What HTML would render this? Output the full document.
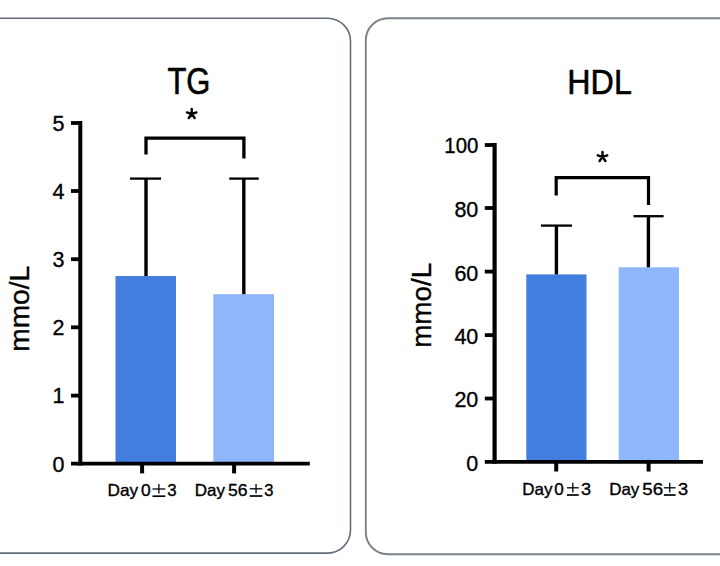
<!DOCTYPE html>
<html><head><meta charset="utf-8">
<style>
html,body{margin:0;padding:0;background:#fff;width:720px;height:566px;overflow:hidden}
svg{display:block}
text{font-family:"Liberation Sans",sans-serif;fill:#000}
</style></head>
<body>
<svg width="720" height="566" viewBox="0 0 720 566">
<rect x="0" y="0" width="720" height="566" fill="#fff"/>
<rect x="-40" y="18.2" width="390.5" height="534.9" rx="23" ry="23" fill="none" stroke="#646c7a" stroke-width="1.6"/>
<rect x="365.8" y="18.3" width="400" height="535.9" rx="22" ry="22" fill="none" stroke="#7a8188" stroke-width="1.9"/>
<rect x="115.5" y="276" width="60.5" height="187" fill="#417ede"/>
<rect x="213.3" y="294.2" width="60.7" height="169" fill="#8fb6fb"/>
<g stroke="#000" fill="none"><line x1="80.3" y1="121" x2="80.3" y2="465.6" stroke-width="4"/><line x1="71" y1="463.7" x2="309.8" y2="463.7" stroke-width="3.7"/><line x1="71" y1="123" x2="80" y2="123" stroke-width="3.8"/><line x1="71" y1="191" x2="80" y2="191" stroke-width="3.8"/><line x1="71" y1="259.2" x2="80" y2="259.2" stroke-width="3.8"/><line x1="71" y1="327.3" x2="80" y2="327.3" stroke-width="3.8"/><line x1="71" y1="395.6" x2="80" y2="395.6" stroke-width="3.8"/><line x1="142.1" y1="464" x2="142.1" y2="473.4" stroke-width="4"/><line x1="234.1" y1="464" x2="234.1" y2="473.4" stroke-width="4"/><line x1="146" y1="276" x2="146" y2="178.6" stroke-width="3.4"/><line x1="243.8" y1="294.2" x2="243.8" y2="178.6" stroke-width="3.4"/><line x1="130" y1="178.6" x2="161" y2="178.6" stroke-width="2.3"/><line x1="229.2" y1="178.6" x2="258.8" y2="178.6" stroke-width="2.3"/><polyline points="146,154.5 146,138.2 243.9,138.2 243.9,158.4" stroke-width="3.3"/></g>
<path d="M191.70 114.00L191.70 109.00M191.70 114.00L196.46 112.45M191.70 114.00L194.64 118.05M191.70 114.00L188.76 118.05M191.70 114.00L186.94 112.45" stroke="#000" stroke-width="2.4" stroke-linecap="round" fill="none"/>
<text x="188.9" y="94.1" font-size="36" text-anchor="middle" textLength="43" lengthAdjust="spacingAndGlyphs" stroke="#000" stroke-width="0.6">TG</text>
<text x="64.5" y="130.8" font-size="21.5" text-anchor="end" stroke="#000" stroke-width="0.35">5</text>
<text x="64.5" y="198.8" font-size="21.5" text-anchor="end" stroke="#000" stroke-width="0.35">4</text>
<text x="64.5" y="267.0" font-size="21.5" text-anchor="end" stroke="#000" stroke-width="0.35">3</text>
<text x="64.5" y="335.1" font-size="21.5" text-anchor="end" stroke="#000" stroke-width="0.35">2</text>
<text x="64.5" y="403.40000000000003" font-size="21.5" text-anchor="end" stroke="#000" stroke-width="0.35">1</text>
<text x="64.5" y="471.6" font-size="21.5" text-anchor="end" stroke="#000" stroke-width="0.35">0</text>
<text transform="translate(29.2,308.8) rotate(-90)" font-size="27.5" text-anchor="middle" textLength="86" lengthAdjust="spacingAndGlyphs" stroke="#000" stroke-width="0.35">mmo/L</text>
<text x="107.5" y="496.4" font-size="16.5" textLength="30.6" lengthAdjust="spacingAndGlyphs" stroke="#000" stroke-width="0.35">Day</text><text x="140.89999999999998" y="496.4" font-size="16.5" textLength="9.700000000000012" lengthAdjust="spacingAndGlyphs" stroke="#000" stroke-width="0.35">0</text><text x="167.2" y="496.4" font-size="16.5" textLength="9.4" lengthAdjust="spacingAndGlyphs" stroke="#000" stroke-width="0.35">3</text><g stroke="#000" fill="none"><line x1="152.5" y1="489.0" x2="165.3" y2="489.0" stroke-width="1.3"/><line x1="158.9" y1="484.1" x2="158.9" y2="493.6" stroke-width="1.3"/><line x1="152.5" y1="496.2" x2="165.3" y2="496.2" stroke-width="1.7"/></g>
<text x="194.79999999999998" y="496.2" font-size="16.5" textLength="30.20000000000001" lengthAdjust="spacingAndGlyphs" stroke="#000" stroke-width="0.35">Day</text><text x="227.95" y="496.2" font-size="16.5" textLength="19.550000000000004" lengthAdjust="spacingAndGlyphs" stroke="#000" stroke-width="0.35">56</text><text x="264.3" y="496.2" font-size="16.5" textLength="9.199999999999955" lengthAdjust="spacingAndGlyphs" stroke="#000" stroke-width="0.35">3</text><g stroke="#000" fill="none"><line x1="249.7" y1="488.8" x2="262.4" y2="488.8" stroke-width="1.3"/><line x1="256.04999999999995" y1="483.9" x2="256.04999999999995" y2="493.40000000000003" stroke-width="1.3"/><line x1="249.7" y1="496.0" x2="262.4" y2="496.0" stroke-width="1.7"/></g>
<rect x="526.3" y="274.4" width="60.2" height="187" fill="#417ede"/>
<rect x="618.7" y="267.3" width="60.3" height="194" fill="#8fb6fb"/>
<g stroke="#000" fill="none"><line x1="494.6" y1="143" x2="494.6" y2="463.7" stroke-width="4.2"/><line x1="484.8" y1="461.8" x2="703" y2="461.8" stroke-width="3.8"/><line x1="484.8" y1="145" x2="494" y2="145" stroke-width="3.8"/><line x1="484.8" y1="208" x2="494" y2="208" stroke-width="3.8"/><line x1="484.8" y1="271.6" x2="494" y2="271.6" stroke-width="3.8"/><line x1="484.8" y1="335.1" x2="494" y2="335.1" stroke-width="3.8"/><line x1="484.8" y1="398.5" x2="494" y2="398.5" stroke-width="3.8"/><line x1="556.2" y1="462" x2="556.2" y2="471.5" stroke-width="4"/><line x1="648.6" y1="462" x2="648.6" y2="471.5" stroke-width="4"/><line x1="556.4" y1="274.4" x2="556.4" y2="225.6" stroke-width="3.4"/><line x1="648.4" y1="267.3" x2="648.4" y2="216.2" stroke-width="3.4"/><line x1="541" y1="225.6" x2="572" y2="225.6" stroke-width="2.3"/><line x1="633.5" y1="216.2" x2="663.6" y2="216.2" stroke-width="2.3"/><polyline points="556.2,195.6 556.2,177.6 648.5,177.6 648.5,205" stroke-width="3.2"/></g>
<path d="M602.50 156.90L602.50 151.90M602.50 156.90L607.26 155.35M602.50 156.90L605.44 160.95M602.50 156.90L599.56 160.95M602.50 156.90L597.74 155.35" stroke="#000" stroke-width="2.4" stroke-linecap="round" fill="none"/>
<text x="599.6" y="94" font-size="35" text-anchor="middle" textLength="64.5" lengthAdjust="spacingAndGlyphs" stroke="#000" stroke-width="0.6">HDL</text>
<text x="478.3" y="153.1" font-size="21.5" text-anchor="end" textLength="34" lengthAdjust="spacingAndGlyphs" stroke="#000" stroke-width="0.35">100</text>
<text x="478.3" y="216.9" font-size="21.5" text-anchor="end" stroke="#000" stroke-width="0.35">80</text>
<text x="478.3" y="280.5" font-size="21.5" text-anchor="end" stroke="#000" stroke-width="0.35">60</text>
<text x="478.3" y="344.0" font-size="21.5" text-anchor="end" stroke="#000" stroke-width="0.35">40</text>
<text x="478.3" y="407.4" font-size="21.5" text-anchor="end" stroke="#000" stroke-width="0.35">20</text>
<text x="478.3" y="470.9" font-size="21.5" text-anchor="end" stroke="#000" stroke-width="0.35">0</text>
<text transform="translate(431.2,305.3) rotate(-90)" font-size="27.5" text-anchor="middle" textLength="85" lengthAdjust="spacingAndGlyphs" stroke="#000" stroke-width="0.35">mmo/L</text>
<text x="522.3000000000001" y="495.2" font-size="16.5" textLength="30.199999999999953" lengthAdjust="spacingAndGlyphs" stroke="#000" stroke-width="0.35">Day</text><text x="554.2" y="495.2" font-size="16.5" textLength="9.500000000000023" lengthAdjust="spacingAndGlyphs" stroke="#000" stroke-width="0.35">0</text><text x="581.1" y="495.2" font-size="16.5" textLength="10.100000000000046" lengthAdjust="spacingAndGlyphs" stroke="#000" stroke-width="0.35">3</text><g stroke="#000" fill="none"><line x1="566.9" y1="487.8" x2="578.75" y2="487.8" stroke-width="1.3"/><line x1="572.825" y1="482.7" x2="572.825" y2="492.40000000000003" stroke-width="1.3"/><line x1="566.9" y1="495.0" x2="578.75" y2="495.0" stroke-width="1.7"/></g>
<text x="609.2" y="495.2" font-size="16.5" textLength="30.15" lengthAdjust="spacingAndGlyphs" stroke="#000" stroke-width="0.35">Day</text><text x="642.3000000000001" y="495.2" font-size="16.5" textLength="20.799999999999976" lengthAdjust="spacingAndGlyphs" stroke="#000" stroke-width="0.35">56</text><text x="677.95" y="495.2" font-size="16.5" textLength="10.15" lengthAdjust="spacingAndGlyphs" stroke="#000" stroke-width="0.35">3</text><g stroke="#000" fill="none"><line x1="663.9" y1="487.8" x2="675.6" y2="487.8" stroke-width="1.3"/><line x1="669.75" y1="482.7" x2="669.75" y2="492.40000000000003" stroke-width="1.3"/><line x1="663.9" y1="495.0" x2="675.6" y2="495.0" stroke-width="1.7"/></g>
</svg>
</body></html>
